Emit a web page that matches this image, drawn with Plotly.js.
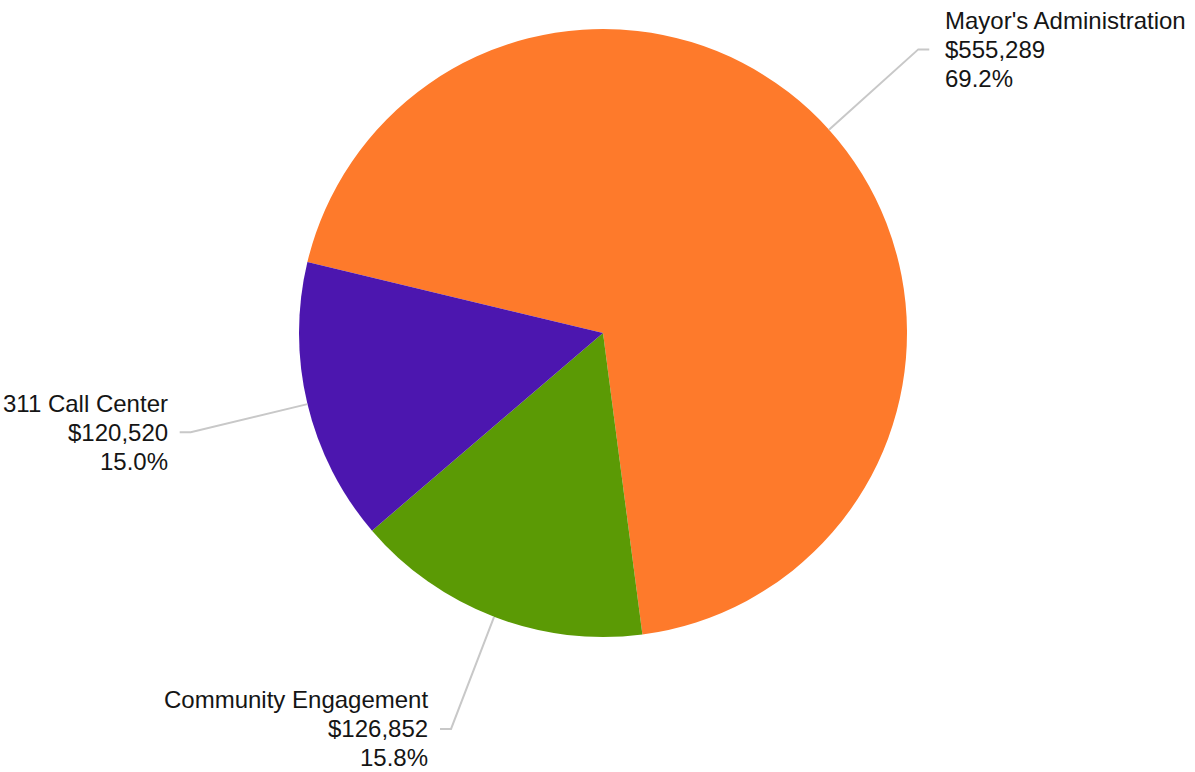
<!DOCTYPE html>
<html>
<head>
<meta charset="utf-8">
<script src="https://cdn.plot.ly/plotly-3.0.1.min.js"></script>
<style>html,body{margin:0;padding:0;background:#fff}#chart{width:1195px;height:772px}</style>
</head>
<body>
<div id="chart"></div>
<script>
// ---- data ----
const labels = ["Mayor's Administration", "Community Engagement", "311 Call Center"];
const values = [555289, 126852, 120520];
const colors = ["#FE7A2B", "#5B9A05", "#4C16AF"];

// ---- layout constants ----
const W = 1195, H = 772;
const cx = 603, cy = 333, R = 304;
const rotation = -76.5;           // start angle of first slice (deg, clockwise from 12 o'clock)
const elbowFactor = 1.395;        // elbow radius relative to pie radius
const hSeg = 11;                  // horizontal leader segment length (px)
const gapRight = 14, gapLeft = 10; // text gap from line end
const fontSize = 24;
const lineStep = 29;              // px between text lines

const total = values.reduce((a, b) => a + b, 0);
const px2x = p => p / W;
const px2y = p => 1 - p / H;

const shapes = [];
const annotations = [];
let cum = 0;
values.forEach((v, i) => {
  const mid = (rotation + (cum + v / 2) / total * 360) * Math.PI / 180;
  cum += v;
  const s = Math.sin(mid), c = Math.cos(mid);
  const x0 = cx + R * s, y0 = cy - R * c;
  const ex = cx + elbowFactor * R * s, ey = cy - elbowFactor * R * c;
  const right = s >= 0;
  const lx = ex + (right ? hSeg : -hSeg);
  shapes.push({
    type: 'path', xref: 'paper', yref: 'paper',
    path: `M${px2x(x0)},${px2y(y0)} L${px2x(ex)},${px2y(ey)} L${px2x(lx)},${px2y(ey)}`,
    line: {color: '#c8c8c8', width: 2}
  });
  const pct = (v / total * 100).toFixed(1) + '%';
  const lines = [labels[i], '$' + v.toLocaleString('en-US'), pct];
  const tx = right ? lx + gapRight : lx - gapLeft;
  lines.forEach((t, k) => {
    annotations.push({
      xref: 'paper', yref: 'paper',
      x: px2x(tx), y: px2y(ey + (k - 1) * lineStep),
      xanchor: right ? 'left' : 'right', yanchor: 'middle',
      showarrow: false,
      text: t,
      font: {family: '"Liberation Sans", Arial, sans-serif', size: fontSize, color: '#151515'}
    });
  });
});

const trace = {
  type: 'pie',
  labels: labels,
  values: values,
  sort: false,
  direction: 'clockwise',
  rotation: rotation,
  marker: {colors: colors, line: {width: 0}},
  textinfo: 'none',
  hoverinfo: 'label+value+percent',
  showlegend: false,
  domain: {x: [(cx - R) / W, (cx + R) / W], y: [1 - (cy + R) / H, 1 - (cy - R) / H]}
};

const layout = {
  width: W, height: H,
  margin: {l: 0, r: 0, t: 0, b: 0},
  paper_bgcolor: '#ffffff',
  plot_bgcolor: '#ffffff',
  showlegend: false,
  shapes: shapes,
  annotations: annotations
};

Plotly.newPlot('chart', [trace], layout, {displayModeBar: false});
</script>
</body>
</html>
